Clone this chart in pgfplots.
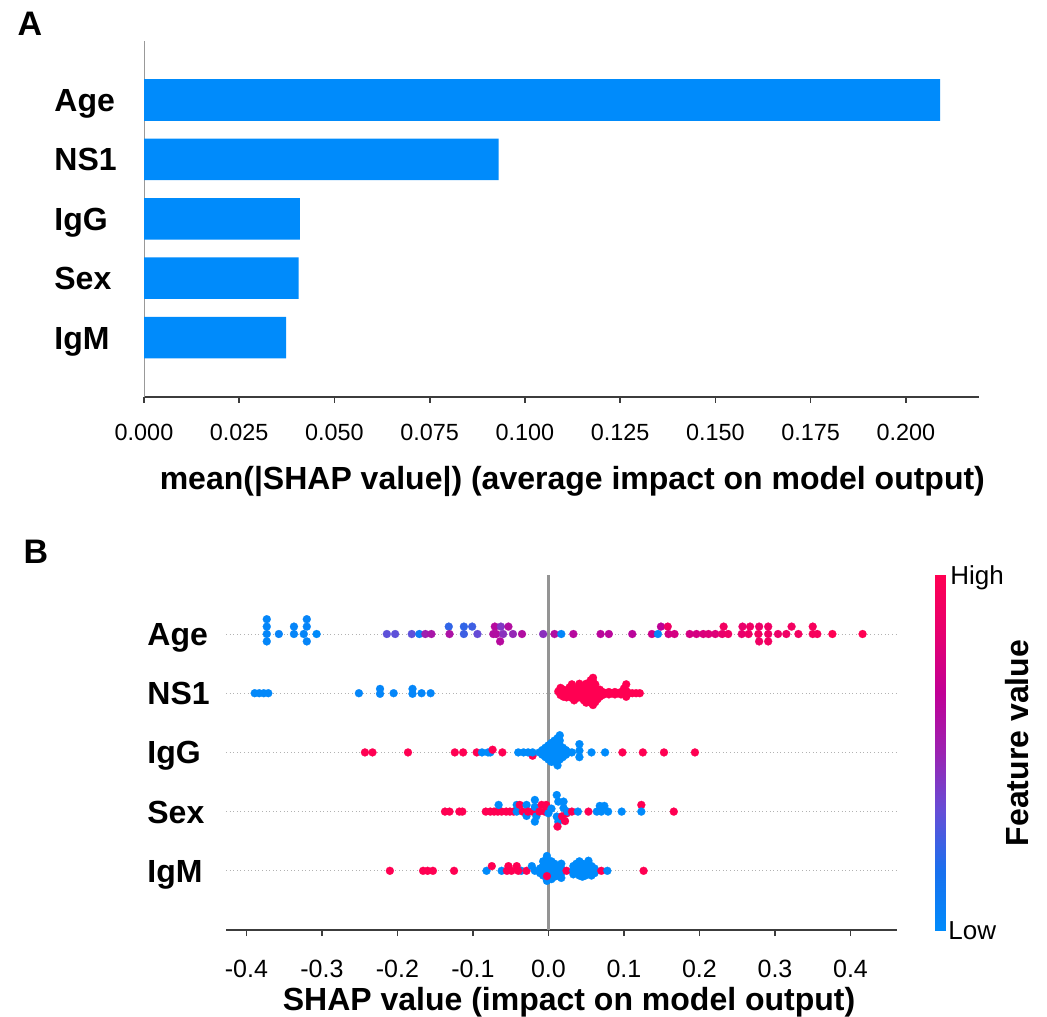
\documentclass[border=0pt]{standalone}
\usepackage{fontspec}
\setmainfont{Liberation Sans}
\usepackage{pgfplots}
\pgfplotsset{compat=1.18}
\definecolor{shapblue}{RGB}{0,139,251}
\definecolor{axdark}{RGB}{60,60,60}
\pgfplotsset{colormap={shap}{rgb255=(0,139,251) rgb255=(25,112,238) rgb255=(100,78,215) rgb255=(155,35,178) rgb255=(192,0,150) rgb255=(230,0,112) rgb255=(255,0,82)}}
\newcommand{\lblfont}{\bfseries\fontsize{16}{16}\selectfont}
\pgfplotsset{
  dotstyle/.style={scatter, only marks, mark=*, mark size=2pt, scatter src=explicit,
    scatter/use mapped color={draw=mapped color, fill=mapped color}, mark options={line width=0.1pt}}
}
\begin{document}
\begin{tikzpicture}
\useasboundingbox (0,0) rectangle (523.5pt,508pt);
\node[font=\bfseries\fontsize{17}{17}\selectfont] at (15pt,496.3pt) {A};
\node[font=\bfseries\fontsize{17}{17}\selectfont] at (18pt,232.3pt) {B};
% ---------------- Panel A ----------------
\begin{axis}[
  at={(72pt,309.5pt)}, anchor=south west, scale only axis,
  width=417.5pt, height=178.2pt,
  xmin=0, xmax=0.2192, ymin=-1, ymax=5,
  axis lines=left, axis line style={-},
  x axis line style={draw=axdark, line width=0.8pt},
  y axis line style={draw=black!40, line width=0.5pt},
  xtick={0,0.025,0.05,0.075,0.1,0.125,0.15,0.175,0.2},
  xticklabels={0.000,0.025,0.050,0.075,0.100,0.125,0.150,0.175,0.200},
  ytick={0,1,2,3,4}, yticklabels={IgM,Sex,IgG,NS1,Age},
  tick align=outside, major tick length=3pt,
  xtick style={draw=axdark, line width=0.8pt},
  ytick style={draw=none},
  xticklabel style={font=\fontsize{11.7}{12}\selectfont, anchor=center, yshift=-14.5pt, text height=8.4pt, text depth=0pt, inner sep=0pt},
  yticklabel style={font=\lblfont, anchor=west, xshift=-42pt, text height=11.5pt, text depth=0pt, inner sep=0pt},
  xlabel={mean(|SHAP value|) (average impact on model output)},
  xlabel style={font=\lblfont, at={(axis description cs:0.513,0)}, anchor=center, yshift=-42pt},
]
\addplot[xbar, bar width=0.7, fill=shapblue, draw=none] coordinates {(0.2090,4) (0.0931,3) (0.0409,2) (0.0406,1) (0.0373,0)};
\end{axis}
% ---------------- Panel B ----------------
\begin{axis}[
  at={(113pt,43pt)}, anchor=south west, scale only axis,
  width=335.65pt, height=177.6pt,
  xmin=-0.427, xmax=0.462, ymin=-1, ymax=5,
  axis lines=left, axis line style={-},
  x axis line style={draw=axdark, line width=0.8pt},
  y axis line style={draw=none},
  xtick={-0.4,-0.3,-0.2,-0.1,0,0.1,0.2,0.3,0.4},
  xticklabels={-0.4,-0.3,-0.2,-0.1,0.0,0.1,0.2,0.3,0.4},
  ytick={0,1,2,3,4}, yticklabels={IgM,Sex,IgG,NS1,Age},
  ymajorgrids, major grid style={draw=black!30, line width=0.5pt, dash pattern=on 0.5pt off 1.3pt},
  tick align=outside, major tick length=3pt,
  xtick style={draw=axdark, line width=0.8pt},
  ytick style={draw=none},
  xticklabel style={font=\fontsize{12.5}{12.5}\selectfont, anchor=center, yshift=-16pt, text height=9pt, text depth=0pt, inner sep=0pt},
  yticklabel style={font=\lblfont, anchor=west, xshift=-36.5pt, text height=11.5pt, text depth=0pt, inner sep=0pt},
  xlabel={SHAP value (impact on model output)},
  xlabel style={font=\lblfont, at={(axis description cs:0.511,0)}, anchor=center, yshift=-36pt},
  colormap name=shap, point meta min=0, point meta max=1,
]
\addplot[draw=black!42, line width=1.2pt] coordinates {(0,-1) (0,5)};
% Age
\addplot[dotstyle] table[meta=c, row sep=\\] {
x y c\\
-0.373 4.25 0.03\\ -0.373 4.125 0.03\\ -0.373 4.0 0.03\\ -0.373 3.875 0.03\\
-0.357 4.0 0.05\\ -0.337 4.125 0.04\\ -0.337 4.0 0.04\\
-0.320 4.25 0.04\\ -0.320 4.125 0.04\\ -0.324 4.0 0.04\\ -0.320 3.875 0.04\\ -0.307 4.0 0.0\\
-0.214 4 0.32\\ -0.203 4 0.32\\ -0.181 4 0.32\\ -0.171 4 0.08\\ -0.163 4 0.52\\ -0.155 4 0.56\\
-0.132 4.125 0.22\\ -0.131 4 0.58\\ -0.112 4.125 0.22\\ -0.101 4.125 0.25\\ -0.112 4 0.25\\ -0.094 4 0.34\\
-0.073 4 0.6\\ -0.069 4 0.6\\ -0.071 4.125 0.62\\ -0.063 4.125 0.42\\ -0.053 4.125 0.6\\
-0.060 4 0.45\\ -0.047 4 0.48\\ -0.035 4 0.6\\ -0.064 3.875 0.62\\
-0.007 4 0.45\\ 0.008 4 0.6\\ 0.017 4 0.03\\ 0.033 4 0.62\\ 0.069 4 0.64\\ 0.080 4 0.64\\ 0.111 4 0.64\\
0.137 4 0.72\\ 0.145 4 0.03\\ 0.149 4.125 0.66\\ 0.158 4.125 0.9\\ 0.159 4 0.76\\ 0.167 4 0.76\\
0.187 4 0.76\\ 0.196 4 0.76\\ 0.205 4 0.78\\ 0.212 4 0.8\\ 0.221 4 0.8\\
0.232 4.125 0.92\\ 0.230 4 0.86\\ 0.238 4 0.9\\
0.257 4.125 0.86\\ 0.267 4.125 0.9\\ 0.279 4.125 0.88\\ 0.291 4.125 0.9\\
0.256 4 0.86\\ 0.265 4 0.9\\ 0.278 4 0.92\\ 0.291 4 0.9\\ 0.279 3.875 0.9\\ 0.291 3.875 0.92\\
0.304 4 0.88\\ 0.315 4 0.9\\ 0.322 4.125 0.92\\ 0.331 4 0.92\\ 0.350 4.125 0.95\\ 0.350 4 0.95\\ 0.356 4 0.95\\
0.376 4 1\\ 0.416 4 1\\
};
% NS1
\addplot[dotstyle] table[meta=c, row sep=\\] {
x y c\\
-0.389 3 0.02\\ -0.383 3 0.02\\ -0.377 3 0.02\\ -0.371 3 0.02\\ -0.251 3 0.03\\
-0.223 3.073 0.03\\ -0.223 2.99 0.03\\ -0.205 3 0.03\\ -0.180 3.073 0.03\\ -0.180 2.99 0.03\\
-0.168 3 0.03\\ -0.156 3 0.03\\
0.013 3.03 1\\ 0.016 3.09 1\\ 0.016 2.97 1\\ 0.020 3.0 1\\ 0.020 3.06 1\\ 0.020 2.94 1\\
0.024 3.0 1\\ 0.024 2.93 1\\ 0.028 3.04 1\\ 0.028 2.96 1\\ 0.028 3.10 1\\
0.031 3.0 1\\ 0.031 3.08 1\\ 0.031 2.92 1\\ 0.031 3.15 1\\ 0.034 3.04 1\\ 0.034 2.96 1\\ 0.034 2.88 1\\
0.038 3.0 1\\ 0.038 3.08 1\\ 0.038 2.92 1\\ 0.041 3.04 1\\ 0.041 2.96 1\\ 0.041 3.12 1\\ 0.041 3.16 1\\
0.044 3.0 1\\ 0.044 3.08 1\\ 0.044 2.92 1\\ 0.047 3.04 1\\ 0.047 2.96 1\\ 0.047 3.12 1\\ 0.047 2.88 1\\
0.050 3.0 1\\ 0.050 3.08 1\\ 0.050 2.92 1\\ 0.050 3.16 1\\ 0.050 2.84 1\\
0.053 3.04 1\\ 0.053 2.96 1\\ 0.053 3.12 1\\ 0.053 2.88 1\\
0.056 3.0 1\\ 0.056 3.08 1\\ 0.056 2.92 1\\ 0.056 3.16 1\\ 0.056 2.84 1\\ 0.056 3.22 1\\
0.059 3.04 1\\ 0.059 2.96 1\\ 0.059 3.12 1\\ 0.059 2.88 1\\ 0.059 3.20 1\\ 0.059 2.80 1\\ 0.059 3.26 1\\
0.062 3.0 1\\ 0.062 3.08 1\\ 0.062 2.92 1\\ 0.062 3.15 1\\ 0.062 2.85 1\\
0.065 3.04 1\\ 0.065 2.96 1\\ 0.065 2.90 1\\ 0.068 3.0 1\\ 0.068 3.06 1\\ 0.068 2.94 1\\
0.072 3.02 1\\ 0.072 2.97 1\\ 0.076 3.0 1\\ 0.080 3.02 1\\ 0.080 2.98 1\\ 0.084 3.0 1\\
0.088 3.02 1\\ 0.088 2.98 1\\ 0.092 3.0 1\\ 0.096 3.02 1\\ 0.096 2.98 1\\
0.100 3.0 1\\ 0.100 3.08 1\\ 0.103 3.15 1\\ 0.103 3.04 1\\ 0.103 2.94 1\\
0.107 3.0 1\\ 0.111 3.0 1\\ 0.116 3.0 1\\ 0.121 3.0 1\\
};
% IgG
\addplot[dotstyle] table[meta=c, row sep=\\] {
x y c\\
-0.243 2 1\\ -0.233 2 1\\ -0.186 2 1\\ -0.124 2 1\\ -0.113 2 1\\ -0.095 2 1\\
-0.088 2 0\\ -0.080 2 0\\ -0.077 2 0\\ -0.074 2.045 1\\ -0.061 2 1\\
-0.021 1.944 1\\ -0.040 2 0\\ -0.033 2 0\\ -0.027 2 0\\ -0.021 2 0\\
-0.012 2.0 0\\ -0.008 2.04 0\\ -0.008 1.96 0\\ -0.004 2.0 0\\ -0.004 2.08 0\\ -0.004 1.92 0\\
0.000 2.04 0\\ 0.000 1.96 0\\ 0.000 2.12 0\\ 0.000 1.88 0\\
0.004 2.0 0\\ 0.004 2.08 0\\ 0.004 1.92 0\\ 0.004 2.16 0\\ 0.004 1.84 0\\
0.008 2.04 0\\ 0.008 1.96 0\\ 0.008 2.12 0\\ 0.008 1.88 0\\ 0.008 2.20 0\\
0.012 2.0 0\\ 0.012 2.08 0\\ 0.012 1.92 0\\ 0.012 2.16 0\\ 0.012 1.84 0\\ 0.012 2.24 0\\ 0.012 1.78 0\\
0.015 2.04 0\\ 0.015 1.96 0\\ 0.015 2.12 0\\ 0.015 1.88 0\\ 0.015 2.20 0\\ 0.015 2.29 0\\
0.019 2.0 0\\ 0.019 2.08 0\\ 0.019 1.92 0\\ 0.023 2.04 0\\ 0.023 1.96 0\\ 0.027 2.0 0\\ 0.031 2.0 0\\
0.041 2.14 0\\ 0.041 2.03 0\\ 0.041 1.92 0\\ 0.057 2 0\\ 0.075 2 0\\
0.098 2 1\\ 0.125 2 1\\ 0.153 2 1\\ 0.194 2 1\\
};
% Sex
\addplot[dotstyle] table[meta=c, row sep=\\] {
x y c\\
-0.137 1 1\\ -0.131 1 1\\ -0.118 1 1\\ -0.114 1 1\\
-0.083 1 1\\ -0.077 1 1\\ -0.072 1 1\\ -0.067 1 1\\ -0.062 1 1\\ -0.056 1 1\\ -0.051 1 1\\
-0.066 1.113 0\\ -0.046 1 1\\ -0.042 1.113 0\\ -0.042 1.0 0\\ -0.038 1.113 1\\ -0.034 1.0 1\\
-0.029 1.113 0\\ -0.029 0.927 0\\ -0.027 1.0 1\\ -0.021 1.0 1\\
-0.018 1.197 0\\ -0.018 1.08 0\\ -0.018 0.831 0\\ -0.016 0.92 0\\
-0.012 1.0 1\\ -0.009 1.113 1\\ -0.005 1.0 1\\ -0.003 1.113 1\\
0.000 0.972 0\\ 0.004 1.05 0\\ 0.011 1.28 0\\ 0.013 1.169 0\\ 0.011 0.916 0\\ 0.013 0.831 0\\
0.020 1.169 0\\ 0.020 1.06 0\\ 0.024 0.97 1\\ 0.012 0.747 1\\ 0.022 0.84 1\\ 0.018 0.92 1\\
0.025 1.0 0\\ 0.031 1.0 1\\ 0.039 1.0 0\\ 0.053 1.0 1\\
0.064 1.0 0\\ 0.068 1.096 0\\ 0.070 1.0 0\\ 0.074 1.096 0\\ 0.079 1.0 0\\ 0.097 1.0 0\\
0.123 1.113 1\\ 0.123 1.0 0\\ 0.166 1.0 1\\
};
% IgM
\addplot[dotstyle] table[meta=c, row sep=\\] {
x y c\\
-0.210 0 1\\ -0.166 0 1\\ -0.160 0 1\\ -0.153 0 1\\ -0.125 0 1\\
-0.082 0 0\\ -0.075 0.079 1\\ -0.062 0 0\\ -0.055 0 1\\ -0.053 0.079 1\\ -0.049 0 1\\ -0.042 0.079 1\\
-0.036 0 0\\ -0.040 0 1\\ -0.029 0 1\\ -0.022 0.079 0\\ -0.018 0 0\\
-0.011 0.04 0\\ -0.011 -0.04 0\\ -0.007 0 0\\ -0.007 0.08 0\\ -0.007 -0.08 0\\ -0.007 0.16 0\\
-0.002 0.04 0\\ -0.002 -0.04 0\\ -0.002 0.12 0\\ -0.002 0.20 0\\ -0.002 0.25 0\\ -0.002 -0.12 0\\ -0.002 -0.17 0\\
0.004 0 0\\ 0.004 0.08 0\\ 0.004 -0.08 0\\ 0.004 0.16 0\\ 0.004 -0.14 0\\
0.008 0.04 0\\ 0.008 -0.04 0\\ 0.008 0.12 0\\ 0.008 -0.10 0\\
0.012 0 0\\ 0.012 0.08 0\\ 0.012 -0.08 0\\
0.017 0.04 0\\ 0.017 -0.04 0\\ 0.017 0.12 0\\ 0.017 -0.12 0\\
-0.002 -0.09 1\\ 0.024 0 1\\
0.033 0 0\\ 0.033 0.08 0\\ 0.033 -0.06 0\\ 0.037 0.04 0\\ 0.037 -0.04 0\\ 0.037 0.12 0\\
0.041 0 0\\ 0.041 0.08 0\\ 0.041 -0.08 0\\ 0.041 0.16 0\\
0.045 0.04 0\\ 0.045 -0.04 0\\ 0.045 0.12 0\\ 0.045 -0.10 0\\
0.049 0 0\\ 0.049 0.08 0\\ 0.049 -0.08 0\\
0.053 0.04 0\\ 0.053 -0.04 0\\ 0.053 0.12 0\\ 0.053 0.17 0\\
0.057 0 0\\ 0.057 0.08 0\\ 0.057 -0.08 0\\ 0.061 0.04 0\\ 0.061 -0.04 0\\
0.070 0 1\\ 0.078 0 0\\ 0.126 0 1\\
};
\end{axis}
% ---------------- Colour bar ----------------
\begin{axis}[
  at={(467.5pt,43pt)}, anchor=south west, scale only axis,
  width=5pt, height=177.5pt,
  xmin=0, xmax=1, ymin=0, ymax=1, zmin=0, zmax=1,
  view={0}{90}, hide axis, clip=false,
  colormap name=shap, point meta min=0, point meta max=1,
]
\addplot3[surf, shader=interp, mesh/cols=2, point meta=z] coordinates {(0,0,0) (1,0,0) (0,1,1) (1,1,1)};
\end{axis}
\node[anchor=west, inner sep=0pt, text height=9.3pt, text depth=0pt, font=\fontsize{13}{13}\selectfont] at (475pt,220.5pt) {High};
\node[anchor=west, inner sep=0pt, text height=9.3pt, text depth=0pt, font=\fontsize{13}{13}\selectfont] at (474pt,43pt) {Low};
\node[rotate=90, font=\lblfont] at (508.5pt,136.5pt) {Feature value};
\end{tikzpicture}
\end{document}
